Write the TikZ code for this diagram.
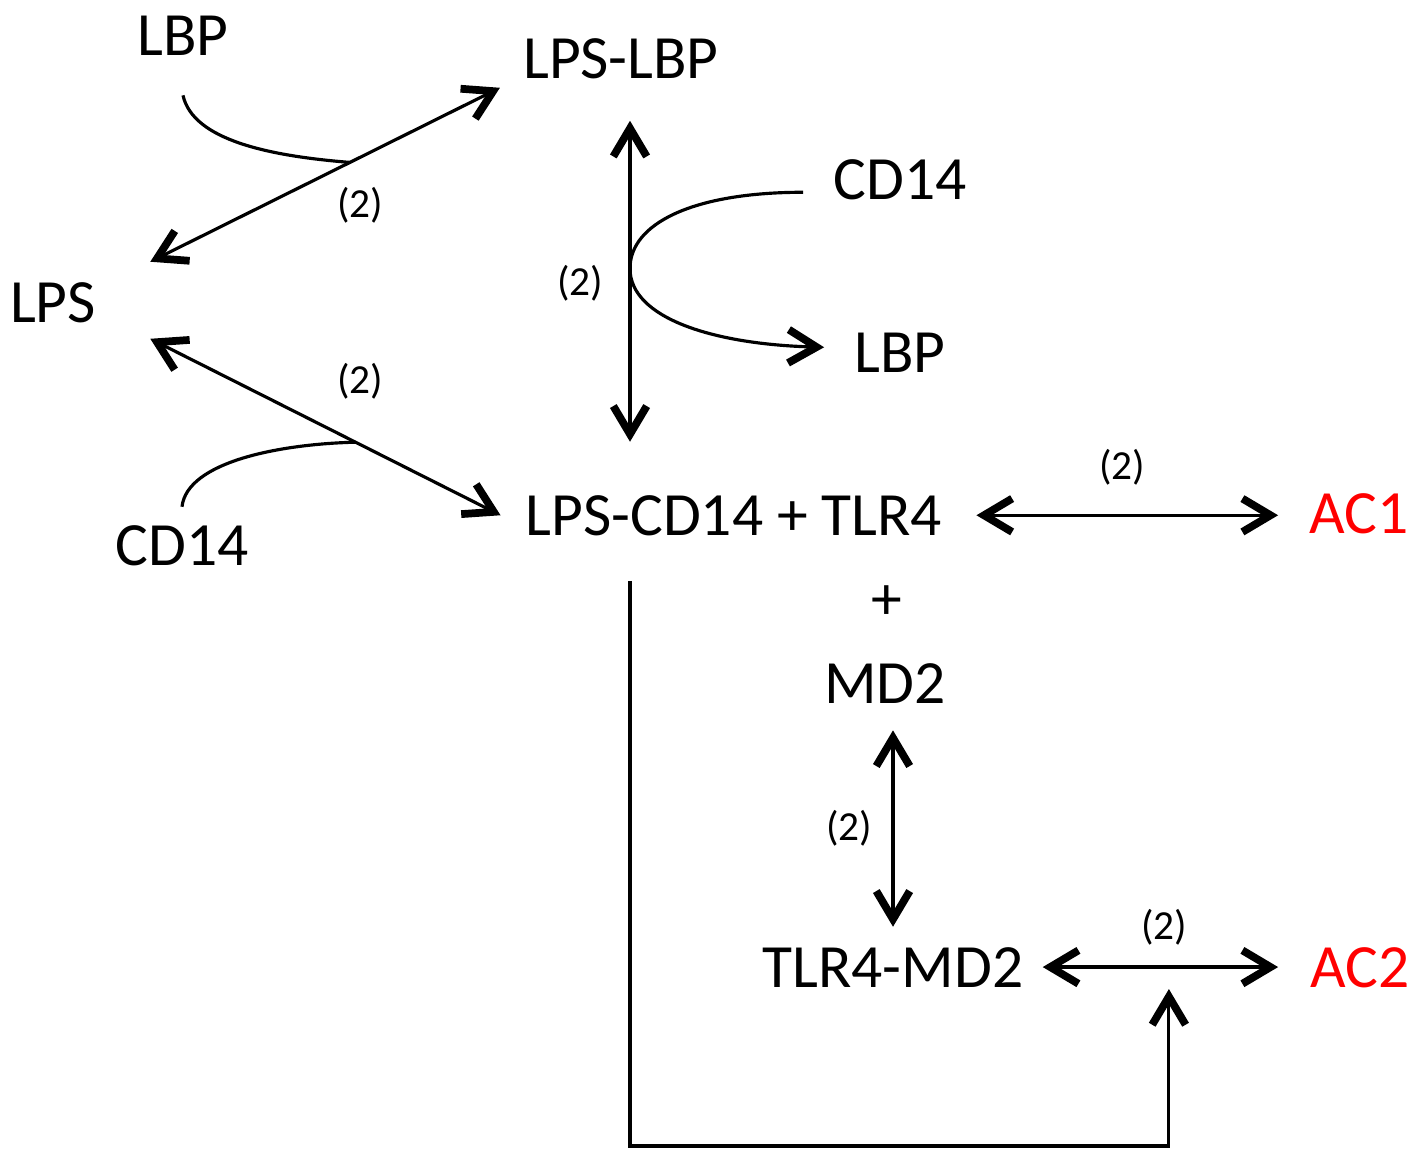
\documentclass[tikz,border=0pt]{standalone}
\usepackage{fontspec}
\setmainfont{Carlito}
\usetikzlibrary{arrows.meta,calc}
\definecolor{acred}{RGB}{255,0,0}
\begin{document}
\begin{tikzpicture}[x=0.02cm,y=-0.02cm,
  lab/.style={font=\fontsize{35}{42}\selectfont, inner sep=0pt, anchor=base},
  num/.style={font=\fontsize{23.5}{28}\selectfont, inner sep=0pt},
  conn/.style={line width=1.8pt, draw=black},
  >={Straight Barb[length=16pt,width=19pt,line width'=4.4pt]}]
\useasboundingbox (0,0) rectangle (1428,1150);
% nodes
\node[lab] (lbpA) at (183,55) {LBP};
\node[lab] (lpslbp) at (621,78) {LPS-LBP};
\node[lab] (cdA) at (900,199) {CD14};
\node[lab] (lps) at (53,322) {LPS};
\node[lab] (lbpB) at (900,372) {LBP};
\node[lab] (cdB) at (182,565) {CD14};
\node[lab] (complex) at (734,535) {LPS-CD14 + TLR4};
\node[lab, text=acred] (ac1) at (1359,533) {AC1};
\node[lab] (plus) at (887,619) {+};
\node[lab] (md2) at (885,703) {MD2};
\node[lab] (tlrmd) at (893,987) {TLR4-MD2};
\node[lab, text=acred] (ac2) at (1360,987) {AC2};
% rate labels
\node[num] (n1) at (360,205) {(2)};
\node[num] (n2) at (580,283) {(2)};
\node[num] (n3) at (360,381) {(2)};
\node[num] (n4) at (1122,467) {(2)};
\node[num] (n5) at (849,828) {(2)};
\node[num] (n6) at (1164,927) {(2)};
% LPS <-> LPS-LBP
\draw[conn,<->] ($(lps.north east)+(54,-20)$) coordinate (a1s) -- ($(lpslbp.south west)+(-23,9)$) coordinate (a1e);
\coordinate (j1) at ($(a1s)!0.571!(a1e)$);
\draw[conn] ($(lbpA.south)+(0,40)$) .. controls +(10,45) and (270,156) .. (j1);
% LPS <-> LPS-CD14 + TLR4
\draw[conn,<->] ($(lps.south east)+(54,16)$) coordinate (a2s) -- ($(complex.west)+(-25,0)$) coordinate (a2e);
\coordinate (j2) at ($(a2s)!0.586!(a2e)$);
\draw[conn] ($(cdB.north)+(0,-18)$) .. controls +(5,-45) and (280,444) .. (j2);
% LPS-LBP <-> LPS-CD14 + TLR4
\coordinate (v1) at ($(lpslbp.south)+(9,42)$);
\draw[conn,<->] (v1) -- ($(v1 |- complex.north)+(0,-53)$) coordinate (v2);
\coordinate (j3) at ($(v1)!0.46!(v2)$);
\draw[conn,->] ($(cdA.west)+(-30,13)$) .. controls +(-110,0) and ($(j3)+(0,-45)$) .. (j3)
  .. controls ($(j3)+(0,50)$) and ($(lbpB.west)+(-140,-8)$) .. ($(lbpB.west)+(-30,-5)$);
% complex <-> AC1
\draw[conn,<->] ($(complex.east)+(34,0)$) -- ($(complex.east -| ac1.west)+(-31,0)$);
% MD2 <-> TLR4-MD2
\draw[conn,<->] ($(tlrmd.north |- md2.south)+(0,27)$) -- ($(tlrmd.north)+(0,-20)$);
% TLR4-MD2 <-> AC2
\draw[conn,<->] ($(tlrmd.east)+(19,0)$) coordinate (h2s) -- ($(tlrmd.east -| ac2.west)+(-32,0)$) coordinate (h2e);
\coordinate (lb) at ($(h2s)!0.536!(h2e)$);
% complex -> AC2 reaction
\draw[conn,->] ($(v1 |- complex.south)+(0,45)$) |- ($(lb)+(0,179)$) -- ($(lb)+(0,22)$);
\end{tikzpicture}
\end{document}
